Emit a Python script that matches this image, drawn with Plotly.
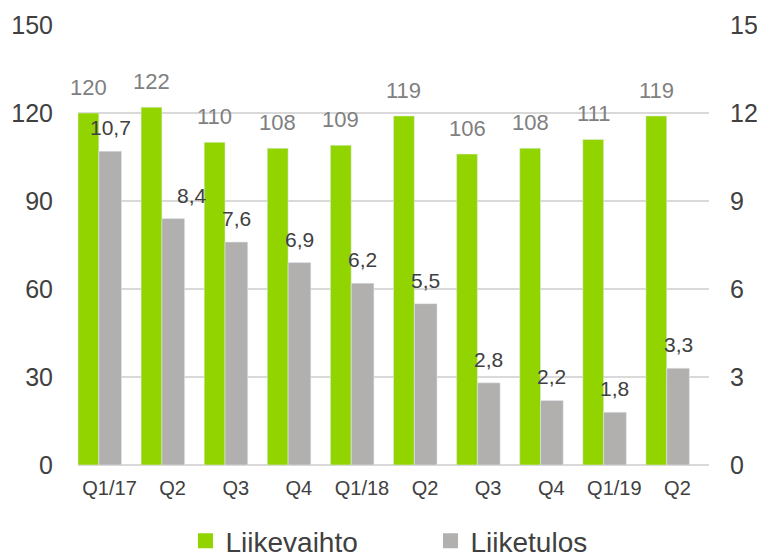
import plotly.graph_objects as go

categories = ["Q1/17", "Q2", "Q3", "Q4", "Q1/18", "Q2", "Q3", "Q4", "Q1/19", "Q2"]
liikevaihto = [120, 122, 110, 108, 109, 119, 106, 108, 111, 119]
liiketulos = [10.7, 8.4, 7.6, 6.9, 6.2, 5.5, 2.8, 2.2, 1.8, 3.3]
left_ticks = [0, 30, 60, 90, 120, 150]
right_ticks = [0, 3, 6, 9, 12, 15]

GREEN = "#92D400"
GREY = "#B1B0AF"
DARK = "#404040"
LABEL_GREY = "#808080"
FONT = "Liberation Sans, Arial, sans-serif"

xs = list(range(len(categories)))

fig = go.Figure()
fig.add_trace(go.Bar(x=xs, y=liikevaihto, name="Liikevaihto", marker_color=GREEN,
                     offset=-0.5, width=0.33, yaxis="y", showlegend=False, hoverinfo="y"))
fig.add_trace(go.Bar(x=xs, y=liiketulos, name="Liiketulos", marker_color=GREY,
                     offset=-0.17, width=0.36, yaxis="y2", showlegend=False, hoverinfo="y"))
# legend entries with larger square markers
fig.add_trace(go.Scatter(x=[None], y=[None], mode="markers", name="Liikevaihto",
                         marker=dict(symbol="square", size=15, color=GREEN)))
fig.add_trace(go.Scatter(x=[None], y=[None], mode="markers", name="Liiketulos",
                         marker=dict(symbol="square", size=15, color=GREY)))

def fmt(v):
    s = ("%g" % v)
    return s.replace(".", ",")

annotations = []
for i, v in enumerate(liikevaihto):
    annotations.append(dict(x=i - 0.335, y=v, xref="x", yref="y", text=str(v),
                            showarrow=False, yanchor="bottom", yshift=11,
                            font=dict(size=22, color=LABEL_GREY, family=FONT)))
label_nudge = {1: 19}
for i, v in enumerate(liiketulos):
    annotations.append(dict(x=i + 0.01, y=v, xref="x", yref="y2", text=fmt(v),
                            showarrow=False, yanchor="bottom", yshift=10,
                            xshift=label_nudge.get(i, 0),
                            font=dict(size=21, color=DARK, family=FONT)))

# page body has an 8px margin, so the figure is 8px smaller than the window
fig.update_layout(
    width=757, height=546,
    margin=dict(l=70, r=56, t=17, b=89, autoexpand=False),
    paper_bgcolor="white", plot_bgcolor="white",
    font=dict(family=FONT, color=DARK),
    barmode="overlay",
    showlegend=True,
    legend=dict(orientation="h", x=0.5586, xanchor="center", y=-0.173, yanchor="middle",
                font=dict(size=28, color=DARK), entrywidth=200, entrywidthmode="pixels"),
    xaxis=dict(range=[-0.5, len(categories) - 0.5], tickmode="array", tickvals=xs,
               ticktext=categories, showgrid=False, zeroline=False, showline=False,
               tickfont=dict(size=20, color=DARK), ticks="", automargin=False,
               ticklabelstandoff=9),
    yaxis=dict(range=[0, 150], tickmode="array", tickvals=left_ticks, showgrid=True,
               gridcolor="#D9D9D9", gridwidth=1.5, zeroline=True, zerolinecolor="#D9D9D9",
               zerolinewidth=2, showline=False, tickfont=dict(size=25, color=DARK),
               ticklabelstandoff=24, automargin=False),
    yaxis2=dict(range=[0, 15], tickmode="array", tickvals=right_ticks, overlaying="y",
                side="right", showgrid=False, zeroline=False, showline=False,
                tickfont=dict(size=25, color=DARK), ticklabelstandoff=20, automargin=False),
    annotations=annotations,
)

fig.write_html("out.html")
